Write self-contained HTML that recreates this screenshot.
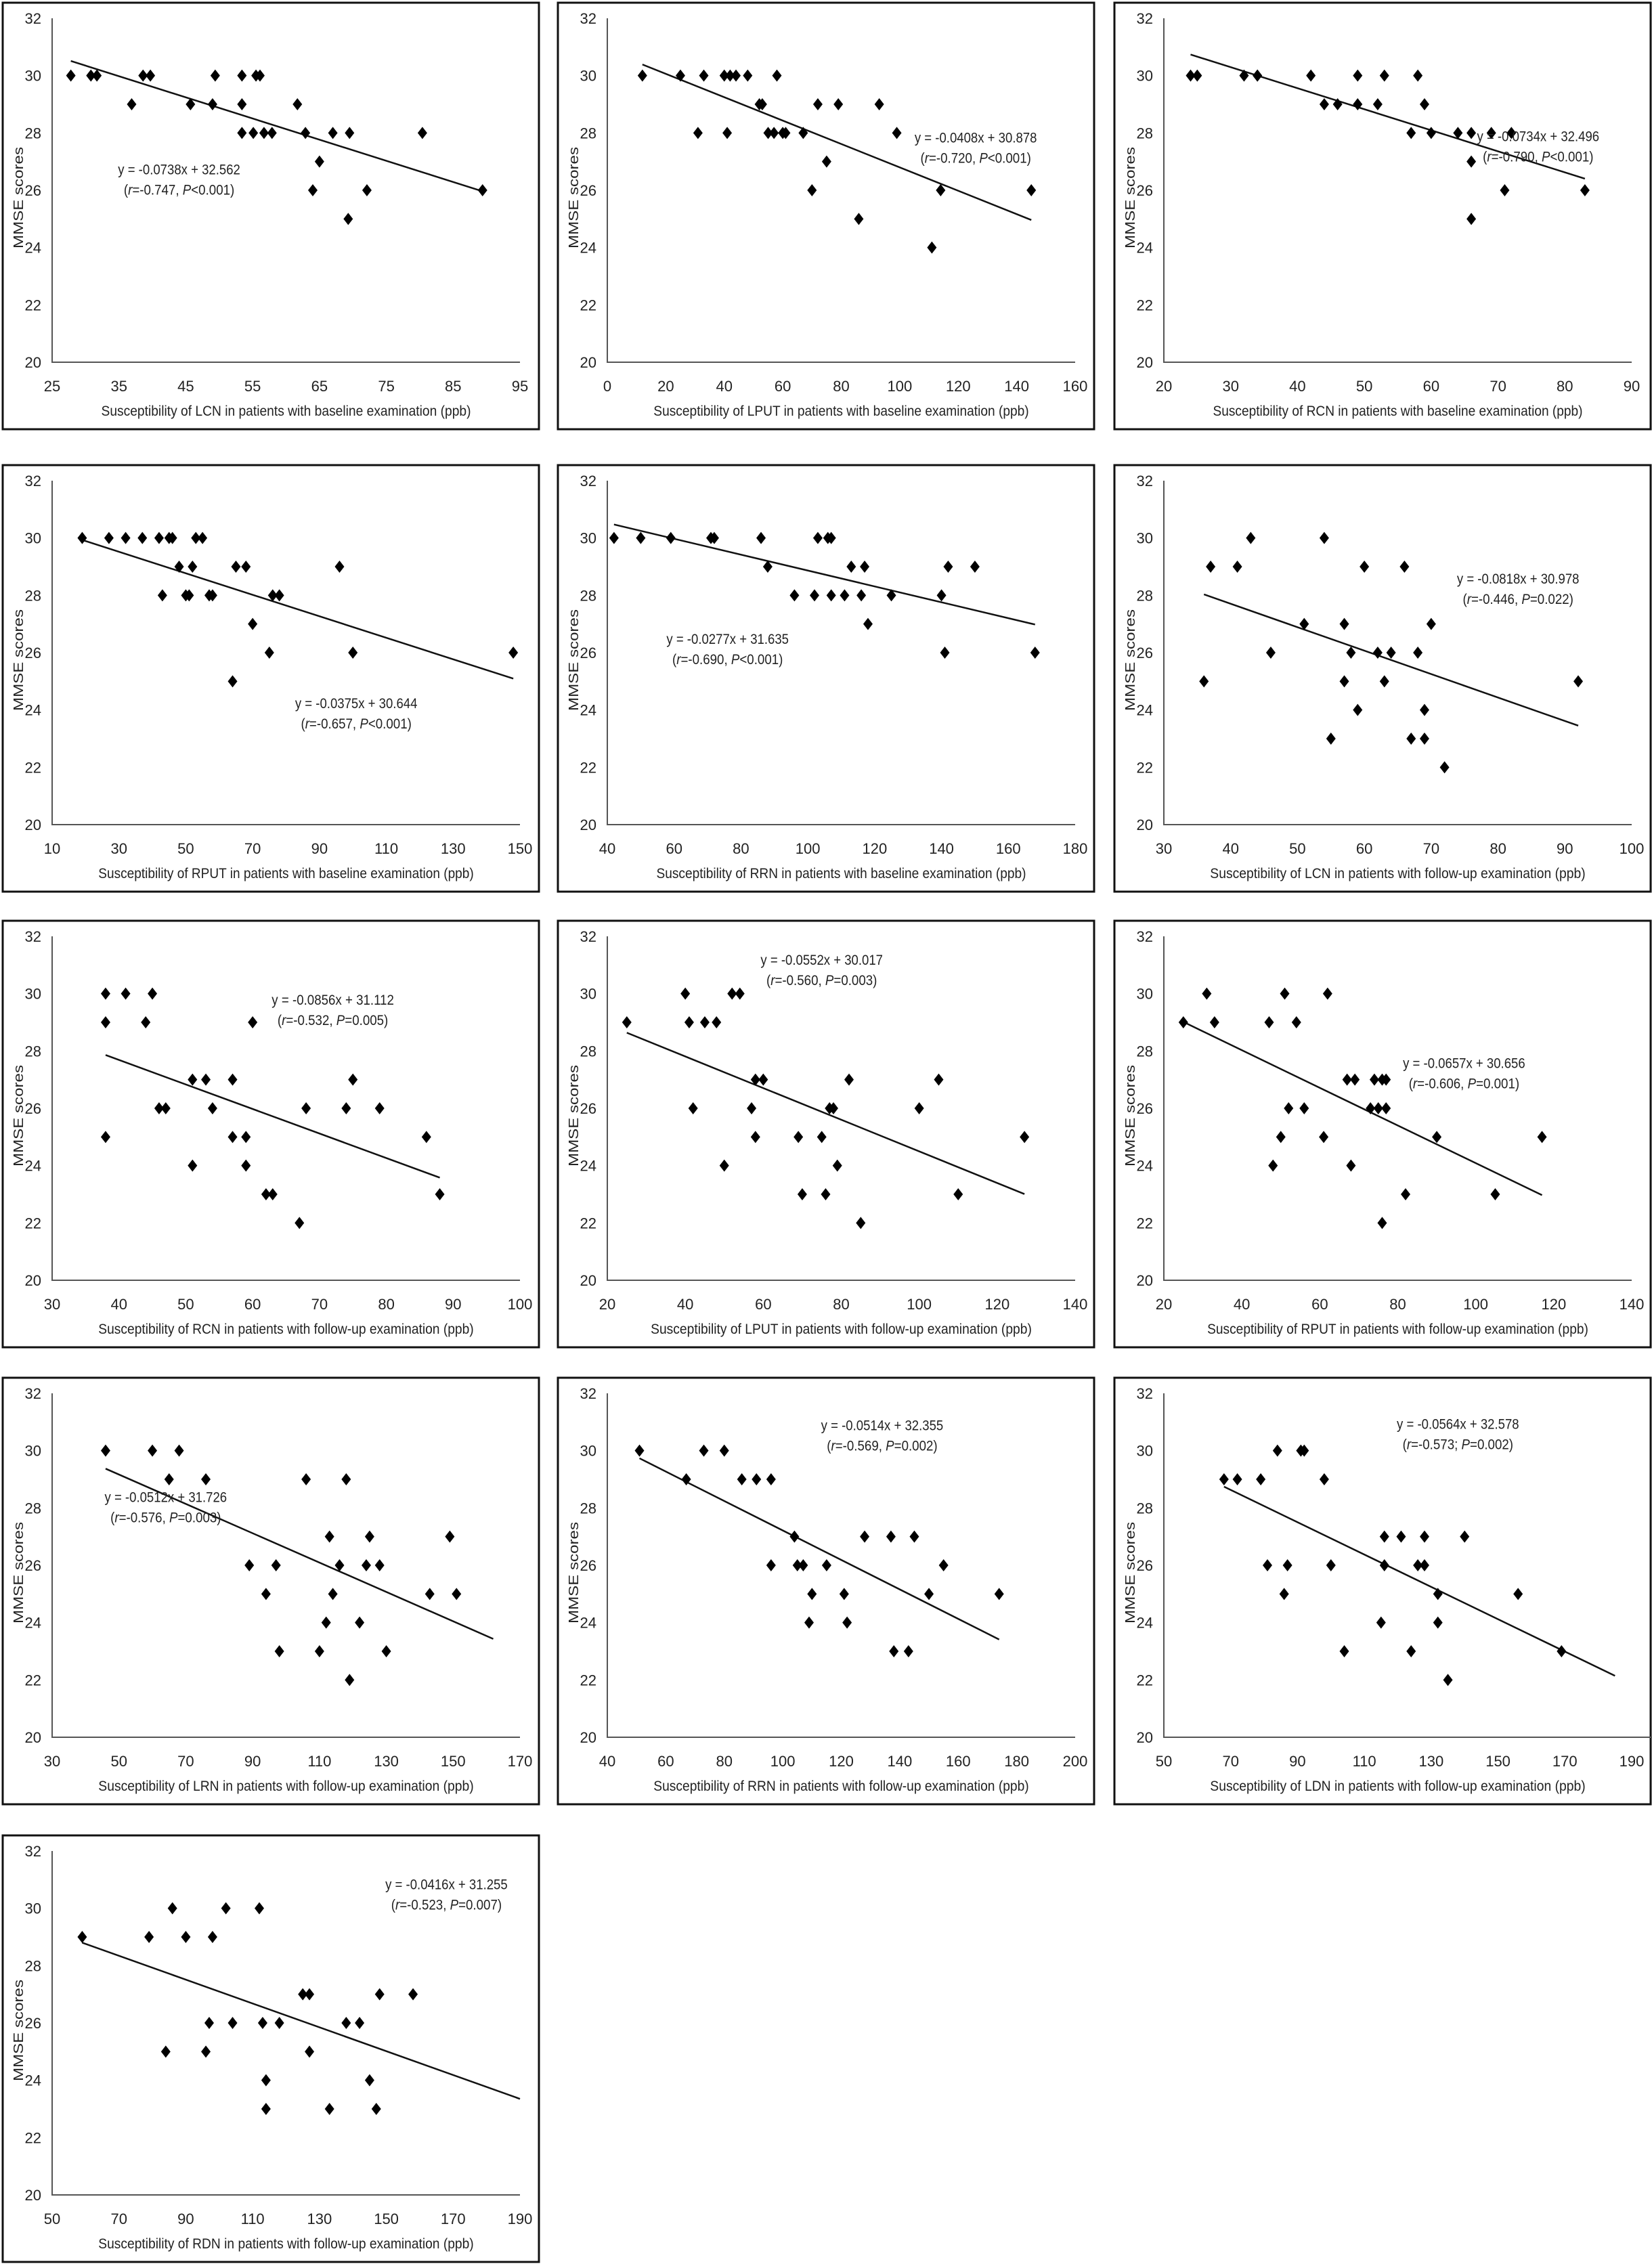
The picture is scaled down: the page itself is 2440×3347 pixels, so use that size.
<!DOCTYPE html>
<html><head><meta charset="utf-8"><style>
html,body{margin:0;padding:0;background:#fff;}
svg{display:block;}
text{font-family:"Liberation Sans",Arial,sans-serif;fill:#222;}
</style></head><body>
<svg id="fig" width="2440" height="3347" viewBox="0 0 2440 3347" xmlns="http://www.w3.org/2000/svg"></svg>
<script>
// ---- data ----
const yTicks = [20,22,24,26,28,30,32];
const p1X=[27.8,30.8,31.7,36.9,38.6,39.7,45.7,49.0,49.4,53.4,53.4,53.4,55.1,55.5,56.1,56.7,57.9,61.7,62.9,64.0,65.0,67.0,69.3,69.5,72.1,80.4,89.4];
const p1Y=[30,30,30,29,30,30,29,29,30,30,29,28,28,30,30,28,28,29,28,26,27,28,25,28,26,28,26];
const p2X=[12,25,31,33,40,42,41,44,48,52,53,55,57,58,60,61,67,70,72,75,79,86,93,99,111,114,145];
const p2Y=[30,30,28,30,30,30,28,30,30,29,29,28,28,30,28,28,28,26,29,27,29,25,29,28,24,26,26];
const p3X=[24,25,32,34,34,42,44,46,49,49,52,53,57,58,59,60,64,66,66,66,69,71,72,83];
const p3Y=[30,30,30,30,30,30,29,29,30,29,29,30,28,30,29,28,28,25,27,28,28,26,28,26];
const p4X=[19,27,32,37,42,43,45,46,48,50,51,52,53,55,57,58,64,65,68,70,75,76,78,96,100,148];
const p4Y=[30,30,30,30,30,28,30,30,29,28,28,29,30,30,28,28,25,29,29,27,26,28,28,29,26,26];
const p5X=[42,50,59,71,72,86,88,96,102,103,106,107,107,111,113,116,117,118,125,140,141,142,150,168];
const p5Y=[30,30,30,30,30,30,29,28,28,30,30,30,28,28,29,28,29,27,28,28,26,29,29,26];
const p6X=[36,37,41,43,46,51,54,55,57,57,58,59,60,62,63,64,66,67,68,69,69,70,72,92];
const p6Y=[25,29,29,30,26,27,30,23,27,25,26,24,29,26,25,26,29,23,26,24,23,27,22,25];
const p7X=[38,38,38,41,44,45,46,47,51,51,53,54,57,57,59,59,60,62,63,67,68,74,75,79,86,88];
const p7Y=[30,29,25,30,29,30,26,26,27,24,27,26,27,25,25,24,29,23,23,22,26,26,27,26,25,23];
const p8X=[25,40,41,42,45,48,50,52,54,57,58,58,60,69,70,75,76,77,78,79,82,85,100,105,110,127];
const p8Y=[29,30,29,26,29,29,24,30,30,26,27,25,27,25,23,25,23,26,26,24,27,22,26,27,23,25];
const p9X=[25,31,33,47,48,50,51,52,54,56,61,62,67,68,69,73,74,75,76,76,77,77,82,90,105,117];
const p9Y=[29,30,29,29,24,25,30,26,29,26,25,30,27,24,27,26,27,26,27,22,26,27,23,25,23,25];
const p10X=[46,60,65,68,76,89,94,97,98,106,110,112,113,114,116,118,119,122,124,125,128,130,143,149,151];
const p10Y=[30,30,29,30,29,26,25,26,23,29,23,24,27,25,26,29,22,24,26,27,26,23,25,27,25];
const p11X=[51,67,73,80,86,91,96,96,104,105,107,109,110,115,121,122,128,137,138,143,145,150,155,174];
const p11Y=[30,29,30,30,29,29,29,26,27,26,26,24,25,26,25,24,27,27,23,23,27,25,26,25];
const p12X=[68,72,79,81,84,86,87,91,92,98,100,104,115,116,116,121,124,126,128,128,132,132,135,140,156,169];
const p12Y=[29,29,29,26,30,25,26,30,30,29,26,23,24,27,26,27,23,26,26,27,24,25,22,27,25,23];
const p13X=[59,79,84,86,90,96,97,98,102,104,112,113,114,114,118,125,127,127,133,138,142,145,147,148,158];
const p13Y=[29,29,25,30,29,25,26,29,30,26,30,26,24,23,26,27,27,25,23,26,26,24,23,27,27];
const xTicks1=[25,35,45,55,65,75,85,95];
const xTicks2=[0,20,40,60,80,100,120,140,160];
const xTicks3=[20,30,40,50,60,70,80,90];
const xTicks4=[10,30,50,70,90,110,130,150];
const xTicks5=[40,60,80,100,120,140,160,180];
const xTicks6=[30,40,50,60,70,80,90,100];
const xTicks7=[30,40,50,60,70,80,90,100];
const xTicks8=[20,40,60,80,100,120,140];
const xTicks9=[20,40,60,80,100,120,140];
const xTicks10=[30,50,70,90,110,130,150,170];
const xTicks11=[40,60,80,100,120,140,160,180,200];
const xTicks12=[50,70,90,110,130,150,170,190];
const xTicks13=[50,70,90,110,130,150,170,190];
const slopes=[-0.0738,-0.0408,-0.0734,-0.0375,-0.0277,-0.0818,-0.0856,-0.0552,-0.0657,-0.0512,-0.0514,-0.0564,-0.0416];
const intercepts=[32.562,30.878,32.496,30.644,31.635,30.978,31.112,30.017,30.656,31.726,32.355,32.578,31.255];
const lineEnds=[89.4,145,83,148,168,92,88,127,117,162,174,185,190];
const rValues=["-0.747","-0.720","-0.790","-0.657","-0.690","-0.446","-0.532","-0.560","-0.606","-0.576","-0.569","-0.573","-0.523"];
const pValues=["<0.001","<0.001","<0.001","<0.001","<0.001","=0.022","=0.005","=0.003","=0.001","=0.003","=0.002","=0.002","=0.007"];
const regions=["LCN","LPUT","RCN","RPUT","RRN","LCN","RCN","LPUT","RPUT","LRN","RRN","LDN","RDN"];
const exams=["baseline","baseline","baseline","baseline","baseline","follow-up","follow-up","follow-up","follow-up","follow-up","follow-up","follow-up","follow-up"];
const eqX=[44,126,76,101,76,83,72,75,97,64,134,138,168];
const eqY=[26.75,27.85,27.9,24.25,26.5,28.6,29.8,31.2,27.6,28.4,30.9,30.95,30.85];
const allX=[p1X,p2X,p3X,p4X,p5X,p6X,p7X,p8X,p9X,p10X,p11X,p12X,p13X];
const allY=[p1Y,p2Y,p3Y,p4Y,p5Y,p6Y,p7Y,p8Y,p9Y,p10Y,p11Y,p12Y,p13Y];
const allTicks=[xTicks1,xTicks2,xTicks3,xTicks4,xTicks5,xTicks6,xTicks7,xTicks8,xTicks9,xTicks10,xTicks11,xTicks12,xTicks13];

// ---- drawing ----
const NS="http://www.w3.org/2000/svg";
const svg=document.getElementById('fig');
const colLeft=[4,824,1646], rowTop=[4,687,1360,2035,2711];
const PW=792, PH=630, L=73, R=764, T=23, B=531;
function mk(tag,parent){const e=document.createElementNS(NS,tag);parent.appendChild(e);return e;}

for(let i=0;i<13;i++){
  const px=colLeft[i%3], py=rowTop[Math.floor(i/3)];
  const ticks=allTicks[i];
  const xmin=ticks[0], xmax=ticks[ticks.length-1];
  const sx=v=>px+L+(v-xmin)/(xmax-xmin)*(R-L);
  const sy=v=>py+B-(v-20)/12*(B-T);
  const g=mk('g',svg);
  
  
  const box=mk('rect',g);
  
  
  box.setAttribute('x',px);box.setAttribute('y',py);box.setAttribute('width',PW);box.setAttribute('height',PH);
  box.setAttribute('fill','#fff');box.setAttribute('stroke','#111');box.setAttribute('stroke-width','3');
  const axes=mk('path',g);
  
  
  const axRight=(i===11)?px+L+(R-L)*1.06:px+R;
  axes.setAttribute('d',`M${px+L} ${py+T}V${py+B}H${axRight}`);
  axes.setAttribute('fill','none');axes.setAttribute('stroke','#555');axes.setAttribute('stroke-width','2');
  yTicks.forEach(t=>{
    const tx=mk('text',g);
    
    
    tx.setAttribute('x',px+57);tx.setAttribute('y',sy(t)+8);
    tx.setAttribute('text-anchor','end');tx.setAttribute('font-size','22');
    tx.textContent=t;
  });
  ticks.forEach(t=>{
    const tx=mk('text',g);
    
    
    tx.setAttribute('x',sx(t));tx.setAttribute('y',py+574);
    tx.setAttribute('text-anchor','middle');tx.setAttribute('font-size','22');
    tx.textContent=t;
  });
  const xt=mk('text',g);
  
  
  const title='Susceptibility of '+regions[i]+' in patients with '+exams[i]+' examination (ppb)';
  xt.setAttribute('x',px+(L+R)/2);xt.setAttribute('y',py+610);
  xt.setAttribute('text-anchor','middle');xt.setAttribute('font-size','21');
  xt.setAttribute('textLength',title.length*8.4);xt.setAttribute('lengthAdjust','spacingAndGlyphs');
  xt.textContent=title;
  const yt=mk('text',g);
  
  
  yt.setAttribute('transform',`translate(${px+30},${py+288}) rotate(-90)`);
  yt.setAttribute('text-anchor','middle');yt.setAttribute('font-size','20');
  yt.setAttribute('textLength','150');yt.setAttribute('lengthAdjust','spacingAndGlyphs');
  yt.textContent='MMSE scores';
  const x0=allX[i][0], x1=lineEnds[i];
  const ln=mk('line',g);
  
  
  ln.setAttribute('x1',sx(x0));ln.setAttribute('y1',sy(slopes[i]*x0+intercepts[i]));
  ln.setAttribute('x2',sx(x1));ln.setAttribute('y2',sy(slopes[i]*x1+intercepts[i]));
  ln.setAttribute('stroke','#111');ln.setAttribute('stroke-width','2.5');
  allX[i].forEach((v,k)=>{
    const cx=sx(v), cy=sy(allY[i][k]);
    const d=mk('path',g);
    
    
    d.setAttribute('d',`M${cx} ${cy-9}L${cx+7} ${cy}L${cx} ${cy+9}L${cx-7} ${cy}Z`);
    d.setAttribute('fill','#000');
  });
  const eq1=mk('text',g);
  
  
  const ex=sx(eqX[i]), ey=sy(eqY[i]);
  eq1.setAttribute('x',ex);eq1.setAttribute('y',ey+8);
  eq1.setAttribute('text-anchor','middle');eq1.setAttribute('font-size','21');
  const s1='y = '+slopes[i].toFixed(4)+'x + '+intercepts[i].toFixed(3);
  eq1.setAttribute('textLength',s1.length*8.6);eq1.setAttribute('lengthAdjust','spacingAndGlyphs');
  eq1.textContent=s1;
  const eq2=mk('text',g);
  
  
  eq2.setAttribute('x',ex);eq2.setAttribute('y',ey+38);
  eq2.setAttribute('text-anchor','middle');eq2.setAttribute('font-size','21');
  const sep=(i===11)?'; ':', ';
  eq2.innerHTML='(<tspan font-style="italic">r</tspan>='+rValues[i]+sep+'<tspan font-style="italic">P</tspan>'+pValues[i].replace('<','&lt;')+')';
  eq2.setAttribute('textLength',(4+rValues[i].length+sep.length+1+pValues[i].length)*8.6);
  eq2.setAttribute('lengthAdjust','spacingAndGlyphs');
}
</script>
</body></html>
